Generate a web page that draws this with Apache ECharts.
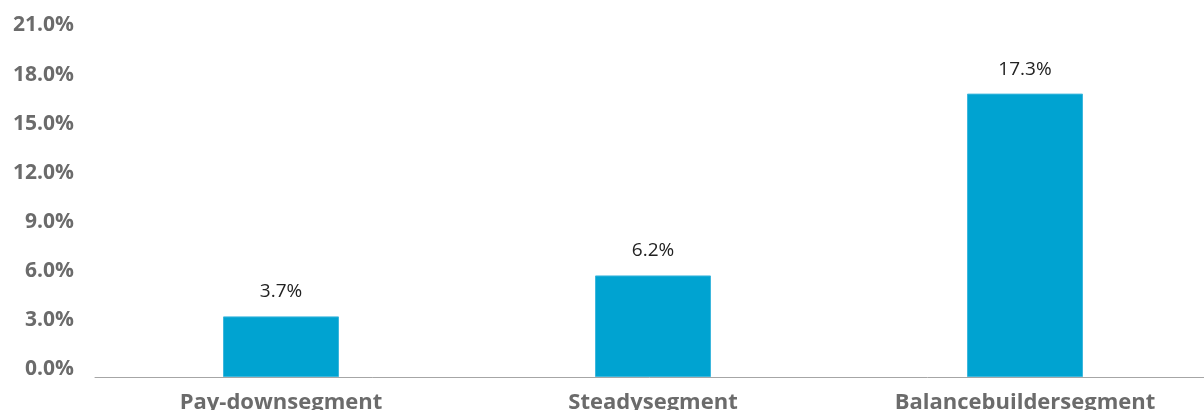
<!DOCTYPE html>
<html><head><meta charset="utf-8">
<script src="https://cdn.jsdelivr.net/npm/echarts@6/dist/echarts.min.js"></script>
<style>html,body{margin:0;padding:0;background:#fff}#c{width:1204px;height:410px}</style>
</head><body><div id="c"></div>
<script>
const categories = ["Pay-downsegment", "Steadysegment", "Balancebuildersegment"];
const values = [3.7, 6.2, 17.3];
const yTicks = [0, 3, 6, 9, 12, 15, 18, 21];

const chart = echarts.init(document.getElementById('c'), null, {renderer: 'canvas'});
chart.setOption({
  animation: false,
  grid: {left: 95, right: -7, top: 33, bottom: 33, containLabel: false, outerBoundsMode: 'none'},
  xAxis: {
    type: 'category',
    data: categories,
    axisLine: {lineStyle: {color: '#A6A6A6', width: 1}},
    axisTick: {show: false},
    axisLabel: {fontFamily: 'Open Sans', fontWeight: 'bold', fontSize: 22, color: '#6B6B6B', margin: 15}
  },
  yAxis: {
    type: 'value',
    min: yTicks[0], max: yTicks[yTicks.length - 1], interval: 3,
    axisLine: {show: false}, axisTick: {show: false}, splitLine: {show: false},
    axisLabel: {
      fontFamily: 'Open Sans', fontWeight: 'bold', fontSize: 21, color: '#6B6B6B', margin: 21,
      verticalAlign: 'bottom', lineHeight: 15,
      formatter: v => v.toFixed(1) + '%'
    }
  },
  series: [{
    type: 'bar',
    data: values,
    barWidth: 116,
    itemStyle: {color: '#00A3D1', borderColor: '#3DB7DD', borderWidth: 1},
    label: {
      show: true, position: 'top', distance: 15,
      fontFamily: 'Open Sans', fontSize: 19, color: '#222',
      formatter: p => p.value.toFixed(1) + '%'
    }
  }]
});
</script></body></html>
